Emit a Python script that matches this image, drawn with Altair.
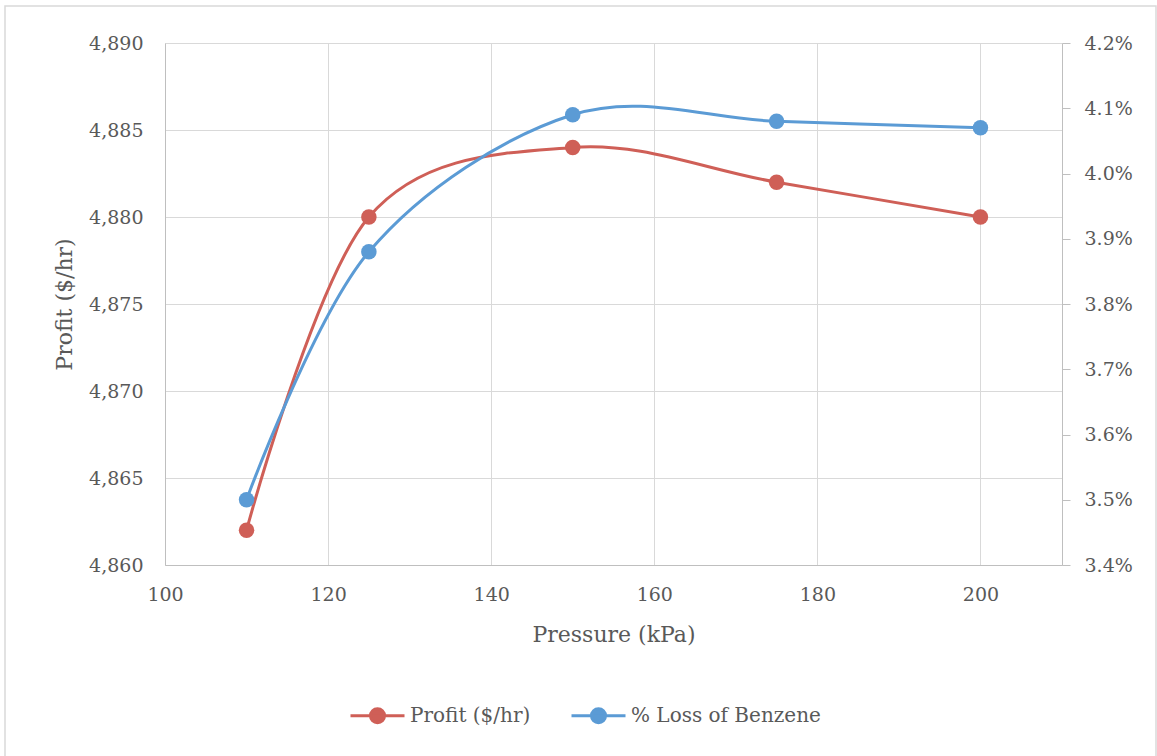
import altair as alt
import pandas as pd

# Operating pressure sweep
pressure = [110, 125, 150, 175, 200]
profit = [4862, 4880, 4884, 4882, 4880]          # $/hr
benzene_loss = [0.0350, 0.0388, 0.0409, 0.0408, 0.0407]  # fraction lost

series_names = ["Profit ($/hr)", "% Loss of Benzene"]
series_colors = ["#CF5F57", "#5B9BD5"]

profit_df = pd.DataFrame({"pressure": pressure, "value": profit, "series": series_names[0]})
loss_df = pd.DataFrame({"pressure": pressure, "value": benzene_loss, "series": series_names[1]})

FONT = "DejaVu Serif"
TXT = "#595959"
GRID = "#D9D9D9"
DOMAIN = "#BFBFBF"

# legend glyph: short line with a dot in the middle
legend_symbol = "M-1,0L1,0M-0.26,0A0.26,0.26,0,1,1,0.26,0A0.26,0.26,0,1,1,-0.26,0Z"

color = alt.Color(
    "series:N",
    scale=alt.Scale(domain=series_names, range=series_colors),
    legend=alt.Legend(
        title=None,
        orient="none",
        direction="horizontal",
        legendX=184,
        legendY=644,
        symbolType=legend_symbol,
        symbolSize=2916,
        symbolStrokeWidth=3,
        labelFont=FONT,
        labelFontSize=20,
        labelColor=TXT,
        labelOffset=4,
        labelLimit=400,
        columnPadding=34,
    ),
)

x = alt.X(
    "pressure:Q",
    scale=alt.Scale(domain=[100, 210], nice=False, zero=False),
    axis=alt.Axis(
        title="Pressure (kPa)",
        values=[100, 120, 140, 160, 180, 200],
        ticks=False,
        labelFlush=False,
        labelPadding=20,
        titlePadding=20,
        grid=True,
        gridColor=GRID,
        domainColor=DOMAIN,
    ),
)

y_left = alt.Y(
    "value:Q",
    scale=alt.Scale(domain=[4860, 4890], nice=False, zero=False),
    axis=alt.Axis(
        title="Profit ($/hr)",
        values=[4860, 4865, 4870, 4875, 4880, 4885, 4890],
        format=",d",
        ticks=False,
        labelFlush=False,
        labelPadding=22,
        titlePadding=12,
        grid=True,
        gridColor=GRID,
        domainColor=DOMAIN,
    ),
)

y_right = alt.Y(
    "value:Q",
    scale=alt.Scale(domain=[0.034, 0.042], nice=False, zero=False),
    axis=alt.Axis(
        title=None,
        orient="right",
        values=[0.034, 0.035, 0.036, 0.037, 0.038, 0.039, 0.040, 0.041, 0.042],
        format=".1%",
        ticks=True,
        tickSize=8,
        tickColor=DOMAIN,
        labelFlush=False,
        labelPadding=14,
        grid=False,
        domainColor=DOMAIN,
    ),
)

profit_base = alt.Chart(profit_df).encode(x=x, y=y_left, color=color)
profit_layer = alt.layer(
    profit_base.mark_line(interpolate="cardinal", strokeWidth=3),
    profit_base.mark_circle(size=240, opacity=1),
)

loss_base = alt.Chart(loss_df).encode(x=x, y=y_right, color=color)
loss_layer = alt.layer(
    loss_base.mark_line(interpolate="cardinal", strokeWidth=3),
    loss_base.mark_circle(size=240, opacity=1),
)

# thin border around the whole chart area
frame = alt.Chart(pd.DataFrame({"k": [0]})).mark_rect(
    fill="transparent", stroke="#D9D9D9", strokeWidth=1.5
).encode(
    x=alt.value(-160), x2=alt.value(991), y=alt.value(-37), y2=alt.value(720)
)

chart = (
    alt.layer(frame, profit_layer, loss_layer)
    .resolve_scale(y="independent")
    .properties(
        width=897,
        height=522,
        padding={"left": 165, "top": 43, "right": 95, "bottom": 191},
        autosize=alt.AutoSizeParams(type="none"),
        background="white",
    )
    .configure_view(strokeWidth=0)
    .configure_axis(
        labelFont=FONT,
        labelFontSize=19,
        labelColor=TXT,
        titleFont=FONT,
        titleFontSize=22,
        titleFontWeight="normal",
        titleColor=TXT,
        gridWidth=1,
        domainWidth=1,
    )
)

chart.save("out.html", embed_options={"renderer": "svg", "actions": False})
